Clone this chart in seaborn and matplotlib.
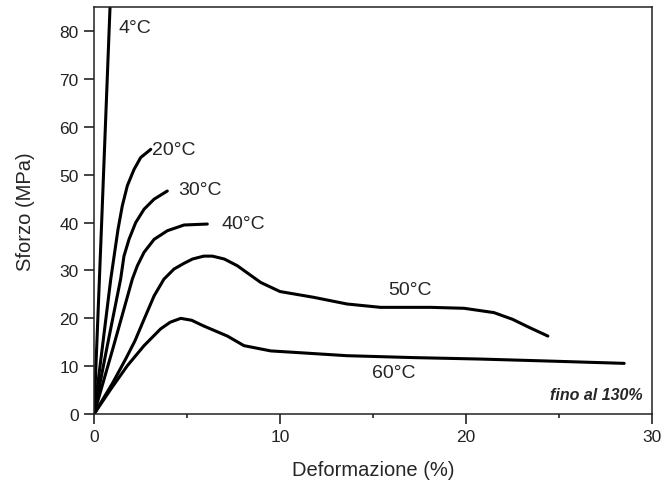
# Curve sforzo-deformazione a varie temperature
import numpy as np
import matplotlib
matplotlib.use("Agg")
import matplotlib.pyplot as plt
import seaborn as sns
import pandas as pd
from matplotlib.ticker import MultipleLocator

# valori: deformazione (%) e sforzo (MPa)
x_4 = [0, 0.4, 0.86]
y_4 = [0, 39, 85]
x_20 = [0, 0.45, 0.9, 1.08, 1.29, 1.52, 1.79, 2.15, 2.51, 3.05]
y_20 = [0, 14, 28.2, 33, 38.6, 43.5, 47.7, 51.1, 53.6, 55.3]
x_30 = [0, 0.7, 1.43, 1.61, 1.88, 2.24, 2.69, 3.23, 3.94]
y_30 = [0, 14, 28.2, 33, 36.5, 40, 42.8, 44.9, 46.6]
x_40 = [0, 1.0, 2.06, 2.33, 2.69, 3.23, 3.94, 4.84, 6.09]
y_40 = [0, 13.5, 28.2, 31, 33.8, 36.5, 38.3, 39.5, 39.7]
x_50 = [0, 1.0, 1.7, 2.2, 2.69, 3.23, 3.76, 4.3, 4.84, 5.3, 5.9, 6.36, 7.0, 7.7, 8.96,
        10.0, 11.8, 13.6, 15.4, 18.1, 19.9, 21.5, 22.5, 23.4, 24.4]
y_50 = [0, 6.5, 11.5, 15.3, 19.8, 24.7, 28.2, 30.3, 31.5, 32.4, 33, 33, 32.4, 31, 27.5,
        25.6, 24.4, 23, 22.3, 22.3, 22.1, 21.2, 19.8, 18.1, 16.3]
x_60 = [0, 0.9, 1.79, 2.69, 3.58, 4.1, 4.66, 5.25, 5.9, 7.17, 8.06, 9.5, 10.75,
        13.6, 17.2, 20.75, 24.3, 28.5]
y_60 = [0, 5.2, 10.1, 14.3, 17.8, 19.2, 20.0, 19.6, 18.4, 16.3, 14.3, 13.2, 12.9,
        12.2, 11.8, 11.5, 11.1, 10.6]

curves = {'4°C': (x_4, y_4), '20°C': (x_20, y_20), '30°C': (x_30, y_30),
          '40°C': (x_40, y_40), '50°C': (x_50, y_50), '60°C': (x_60, y_60)}

sns.set_style("ticks")
plt.rcParams['font.family'] = ['Liberation Sans', 'DejaVu Sans']

fig = plt.figure(figsize=(6.64, 4.81), dpi=100)
ax = fig.add_axes([0.1416, 0.137, 0.8404, 0.846])

for name, (xs, ys) in curves.items():
    df = pd.DataFrame({'x': xs, 'y': ys})
    sns.lineplot(data=df, x='x', y='y', sort=False, color='black', lw=2.2,
                 solid_joinstyle='round', solid_capstyle='round', ax=ax)

ax.set_xlim(0, 30)
ax.set_ylim(0, 85)
ax.xaxis.set_major_locator(MultipleLocator(10))
ax.xaxis.set_minor_locator(MultipleLocator(5))
ax.yaxis.set_major_locator(MultipleLocator(10))
ax.tick_params(axis='both', which='major', direction='out', length=7, width=1.2,
               labelsize=12.5, pad=4, colors='#222222')
ax.tick_params(axis='x', which='minor', direction='out', length=3, width=1.2)
for sp in ax.spines.values():
    sp.set_linewidth(1.1)
    sp.set_color('#222222')

ax.set_xlabel('Deformazione (%)', fontsize=14.5, va='top')
ax.set_ylabel('Sforzo (MPa)', fontsize=14.5)
ax.xaxis.set_label_coords(0.5, -0.112)
ax.yaxis.set_label_coords(-0.106, 0.5)

# etichette delle curve
ax.text(1.3, 80.8, '4°C', fontsize=14, ha='left', va='center')
ax.text(3.1, 55.3, '20°C', fontsize=14, ha='left', va='center')
ax.text(4.55, 47.0, '30°C', fontsize=14, ha='left', va='center')
ax.text(6.85, 39.9, '40°C', fontsize=14, ha='left', va='center')
ax.text(17.0, 26.1, '50°C', fontsize=14, ha='center', va='center')
ax.text(16.1, 8.6, '60°C', fontsize=14, ha='center', va='center')
ax.text(29.5, 4.0, 'fino al 130%', fontsize=11.5, ha='right', va='center',
        fontweight='bold', fontstyle='italic')

fig.savefig('out.png', dpi=100)
